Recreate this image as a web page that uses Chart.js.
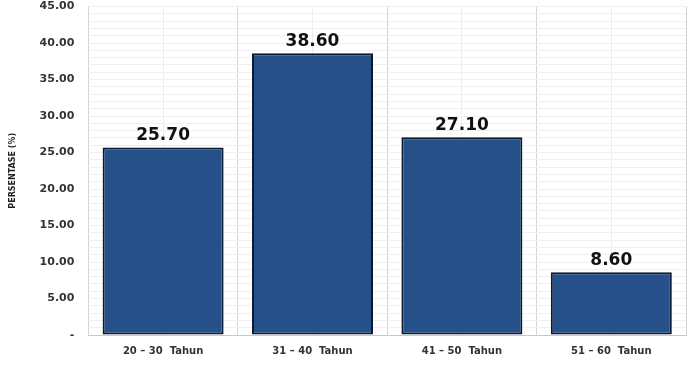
<!DOCTYPE html>
<html>
<head>
<meta charset="utf-8">
<script src="https://cdn.jsdelivr.net/npm/chart.js@4.4.0/dist/chart.umd.min.js"></script>
<style>
  html, body { margin: 0; padding: 0; background: #fff; }
  #wrap { width: 697px; height: 380px; }
</style>
</head>
<body>
<div id="wrap"><canvas id="myChart"></canvas></div>
<script>
// Data
var categories = ["20 \u2013 30  Tahun", "31 \u2013 40  Tahun", "41 \u2013 50  Tahun", "51 \u2013 60  Tahun"];
var percentages = [25.70, 38.60, 27.10, 8.60];
var yTicks = [0, 5, 10, 15, 20, 25, 30, 35, 40, 45];

var FONT = "Tahoma, 'DejaVu Sans', sans-serif";

// Draw value labels above each bar
var valueLabels = {
  id: "valueLabels",
  afterDatasetsDraw: function (chart) {
    var ctx = chart.ctx;
    var meta = chart.getDatasetMeta(0);
    ctx.save();
    ctx.font = "bold 17px " + FONT;
    ctx.fillStyle = "#111";
    ctx.textAlign = "center";
    ctx.textBaseline = "bottom";
    meta.data.forEach(function (bar, i) {
      ctx.fillText(percentages[i].toFixed(2), bar.x, bar.y - 3);
    });
    ctx.restore();
  }
};

var ctx = document.getElementById("myChart").getContext("2d");
var myChart = new Chart(ctx, {
  type: "bar",
  data: {
    labels: categories,
    datasets: [{
      data: percentages,
      backgroundColor: "#26508a",
      borderColor: "#0b1a33",
      borderWidth: 2,
      borderSkipped: false,
      barPercentage: 0.81,
      categoryPercentage: 1
    }]
  },
  options: {
    responsive: true,
    maintainAspectRatio: false,
    animation: false,
    layout: { padding: { top: 0, right: 11, bottom: 13, left: 8 } },
    plugins: {
      legend: { display: false },
      tooltip: { enabled: false }
    },
    scales: {
      x: {
        grid: { color: "#d4d4d4", drawTicks: false },
        border: { color: "#c8c8c8" },
        ticks: {
          color: "#333",
          padding: 10,
          font: { family: FONT, size: 10, weight: "bold" }
        }
      },
      x2: {
        type: "category",
        position: "top",
        labels: categories,
        offset: true,
        grid: { offset: false, color: "#ececec", drawTicks: false },
        border: { display: false },
        ticks: { display: false },
        afterFit: function (axis) { axis.height = 0; }
      },
      y: {
        min: 0,
        max: 45,
        afterBuildTicks: function (axis) {
          axis.ticks = yTicks.map(function (v) { return { value: v }; });
        },
        grid: { color: "#dcdcdc", drawTicks: true, tickLength: 14, tickColor: "rgba(0,0,0,0)" },
        border: { display: false },
        ticks: {
          color: "#333",
          padding: 0,
          font: { family: FONT, size: 11, weight: "bold" },
          callback: function (v) { return v === 0 ? "-" : v.toFixed(2); }
        },
        title: {
          display: true,
          text: "PERSENTASE (%)",
          color: "#222",
          padding: { top: 0, bottom: 22 },
          font: { family: FONT, size: 8, weight: "bold" }
        }
      },
      y2: {
        position: "right",
        min: 0,
        max: 45,
        ticks: { display: false, stepSize: 1 },
        grid: { color: "#f0f0f0", drawTicks: false },
        border: { display: false },
        afterFit: function (axis) { axis.width = 0; }
      }
    }
  },
  plugins: [valueLabels]
});
</script>
</body>
</html>
